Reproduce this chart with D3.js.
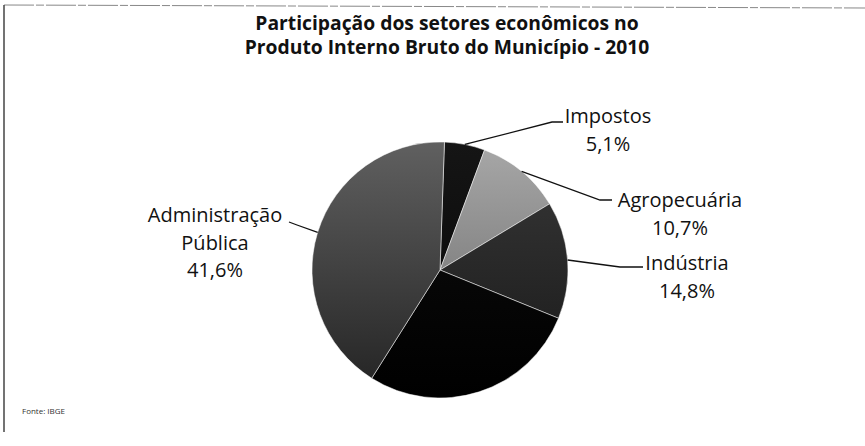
<!DOCTYPE html>
<html>
<head>
<meta charset="utf-8">
<script src="https://cdn.jsdelivr.net/npm/d3@7"></script>
<style>
  body { margin: 0; background: #fff; }
  svg { display: block; font-family: "Open Sans", sans-serif; }
</style>
</head>
<body>
<svg id="chart"></svg>
<script>
// data
var titleLines = ["Participação dos setores econômicos no", "Produto Interno Bruto do Município - 2010"];
var sectors = ["Impostos", "Agropecuária", "Indústria", "Serviços", "Administração Pública"];
var shares = [5.1, 10.7, 14.8, 27.8, 41.6];
// the scan carries no label for the fourth slice
var labelLines = [["Impostos"], ["Agropecuária"], ["Indústria"], null, ["Administração", "Pública"]];
var source = "Fonte: IBGE";

var width = 865, height = 446;
var cx = 440, cy = 270, r = 128;
var rot = 2 * Math.PI / 180;

// placement of each label: text centre, first baseline, leader elbow and end
var labelPos = [
  { x: 608, y: 123, elbow: [552, 122], end: [563, 122] },
  { x: 680, y: 207, elbow: [600, 200], end: [612, 200] },
  { x: 687, y: 270, elbow: [620, 267], end: [643, 267] },
  null,
  { x: 215, y: 222, elbow: [297, 225], end: [289, 222] }
];

// top/bottom tones of each slice
var tones = [
  ["#151515", "#050505"],
  ["#a8a8a8", "#626262"],
  ["#383838", "#181818"],
  ["#0e0e0e", "#000000"],
  ["#606060", "#222222"]
];

var svg = d3.select("svg#chart")
    .attr("width", width)
    .attr("height", height);

// scanned frame
svg.append("line")
    .attr("x1", 4).attr("y1", 5).attr("x2", width).attr("y2", 8)
    .attr("stroke", "#888").attr("stroke-width", 1)
    .attr("stroke-dasharray", "30,2,8,2");
svg.append("line")
    .attr("x1", 4).attr("y1", 5).attr("x2", 4).attr("y2", 432)
    .attr("stroke", "#444").attr("stroke-width", 1.5);

svg.append("g").selectAll("text")
  .data(titleLines)
  .enter().append("text")
    .attr("x", 447)
    .attr("y", function(d, i) { return 29.5 + i * 24.5; })
    .attr("text-anchor", "middle")
    .attr("font-weight", "bold")
    .attr("font-size", 19.3)
    .attr("fill", "#111")
    .text(function(d) { return d; });

var defs = svg.append("defs");
defs.selectAll("linearGradient")
  .data(tones)
  .enter().append("linearGradient")
    .attr("id", function(d, i) { return "tone" + i; })
    .attr("gradientUnits", "userSpaceOnUse")
    .attr("x1", 0).attr("y1", -r).attr("x2", 0).attr("y2", r)
  .selectAll("stop")
  .data(function(d) { return d; })
  .enter().append("stop")
    .attr("offset", function(d, i) { return i * 100 + "%"; })
    .attr("stop-color", function(d) { return d; });

var pie = d3.pie().sort(null)
    .startAngle(rot).endAngle(2 * Math.PI + rot);
var arc = d3.arc().innerRadius(0).outerRadius(r);
var arcs = pie(shares);

var g = svg.append("g").attr("transform", "translate(" + cx + "," + cy + ")");

g.selectAll("path")
  .data(arcs)
  .enter().append("path")
    .attr("d", arc)
    .attr("fill", function(d, i) { return "url(#tone" + i + ")"; })
    .attr("stroke", "#fff")
    .attr("stroke-opacity", 0.5)
    .attr("stroke-width", 1);

var fmt = function(v) { return v.toFixed(1).replace(".", ",") + "%"; };

var labelled = arcs.map(function(d, i) {
  return { arc: d, lines: labelLines[i], pos: labelPos[i] };
}).filter(function(d) { return d.lines; });

// leader lines from the slice's outer edge
svg.append("g").selectAll("polyline")
  .data(labelled)
  .enter().append("polyline")
    .attr("points", function(d) {
      var a = (d.arc.startAngle + d.arc.endAngle) / 2;
      var p0 = [cx + r * Math.sin(a), cy - r * Math.cos(a)];
      return [p0, d.pos.elbow, d.pos.end].map(function(p) { return p.join(","); }).join(" ");
    })
    .attr("fill", "none")
    .attr("stroke", "#111")
    .attr("stroke-width", 1.3);

var lbl = svg.append("g").selectAll("text")
  .data(labelled)
  .enter().append("text")
    .attr("text-anchor", "middle")
    .attr("font-size", 20)
    .attr("fill", "#111");

lbl.selectAll("tspan")
  .data(function(d) {
    return d.lines.concat([fmt(d.arc.data)]).map(function(t, k) {
      return { text: t, x: d.pos.x, y: d.pos.y + k * 27.5 };
    });
  })
  .enter().append("tspan")
    .attr("x", function(d) { return d.x; })
    .attr("y", function(d) { return d.y; })
    .text(function(d) { return d.text; });

svg.append("text")
    .attr("x", 22)
    .attr("y", 414)
    .attr("font-size", 8)
    .attr("fill", "#333")
    .text(source);
</script>
</body>
</html>
